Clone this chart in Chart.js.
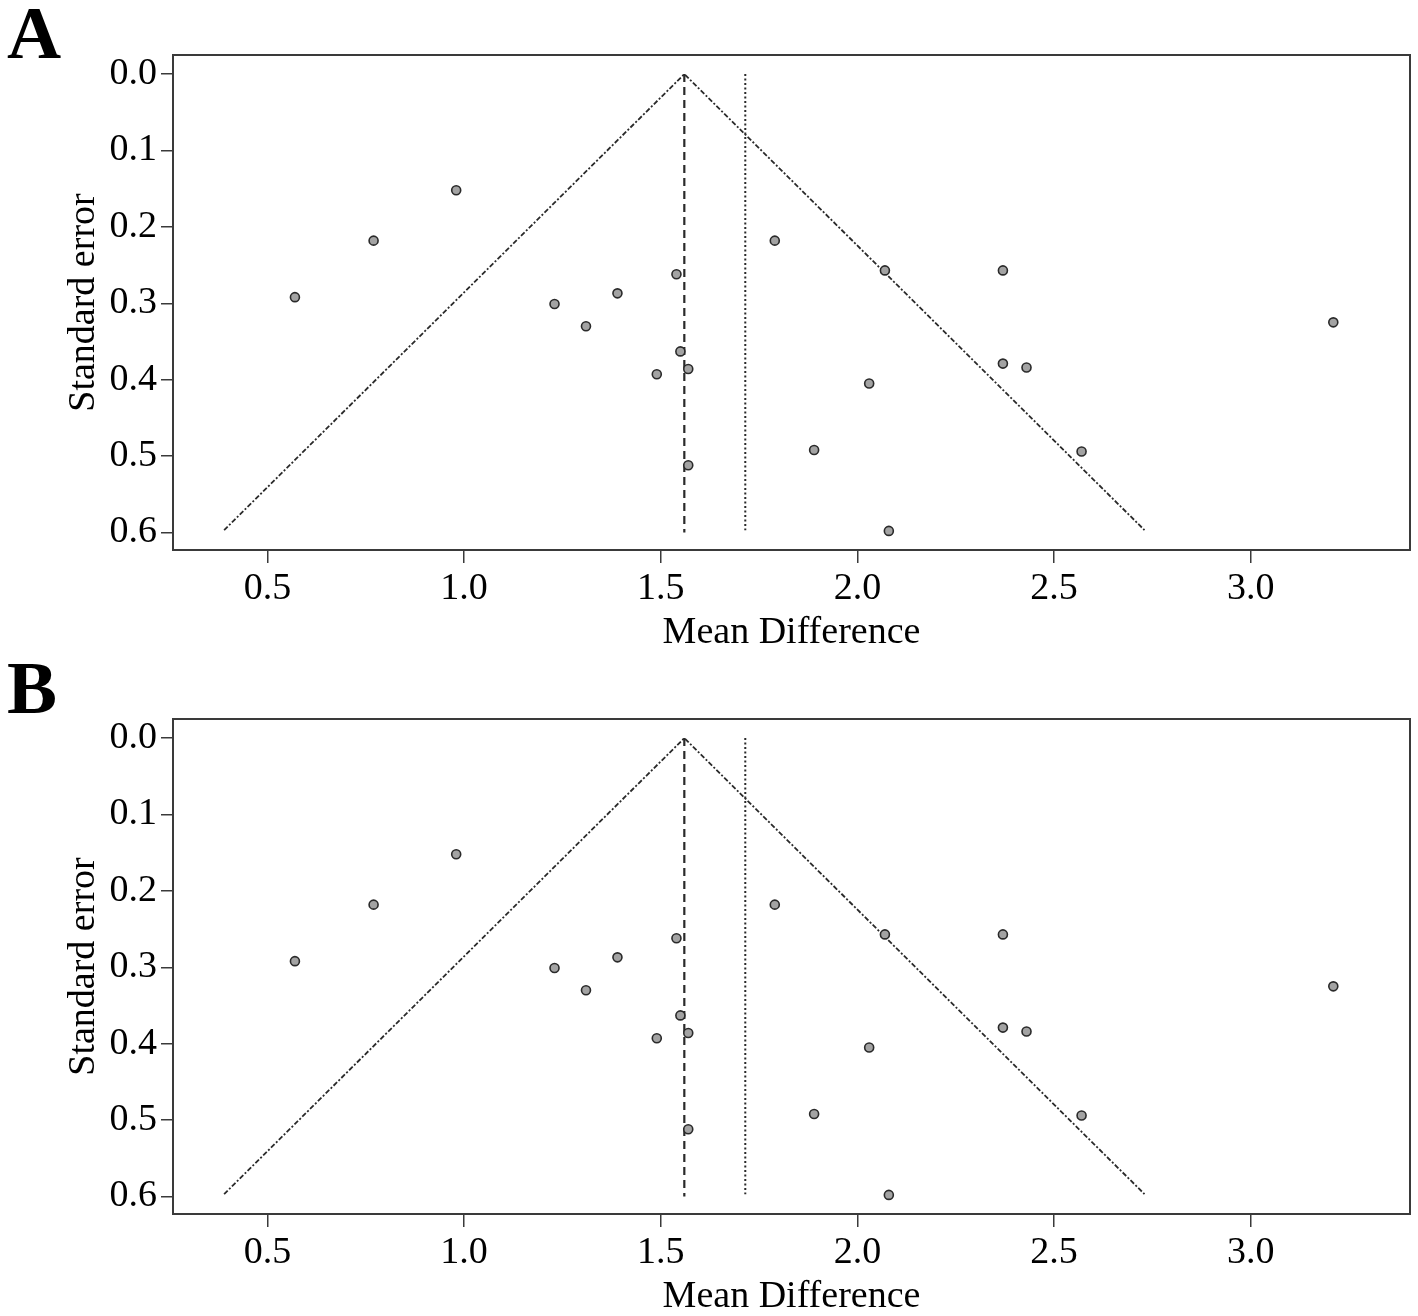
<!DOCTYPE html>
<html>
<head>
<meta charset="utf-8">
<script src="https://cdn.jsdelivr.net/npm/chart.js@4.4.1/dist/chart.umd.min.js"></script>
<style>
  html, body { margin: 0; padding: 0; background: #ffffff; width: 1418px; height: 1316px; overflow: hidden; position: relative; }
  .panel { position: absolute; left: 0; width: 1418px; height: 658px; }
  .letter { position: absolute; left: 7px; font-family: "Liberation Serif", "Times New Roman", serif; font-weight: bold; font-size: 75px; line-height: 74px; color: #000; }
</style>
</head>
<body>
<div class="letter" style="top:-4px;">A</div>
<div class="letter" style="top:651px;">B</div>
<div class="panel" style="top:0px;"><canvas id="chartA" width="1418" height="658"></canvas></div>
<div class="panel" style="top:664px;"><canvas id="chartB" width="1418" height="658"></canvas></div>
<script>
// ---- Data ----
const meanDiff = [0.57, 0.77, 0.98, 1.23, 1.31, 1.39, 1.49, 1.54, 1.55, 1.57, 1.57,
                  1.79, 1.89, 2.03, 2.07, 2.08, 2.37, 2.37, 2.43, 2.57, 3.21];
const stdError = [0.292, 0.218, 0.152, 0.301, 0.330, 0.287, 0.393, 0.262, 0.363, 0.386, 0.512,
                  0.218, 0.492, 0.405, 0.257, 0.598, 0.257, 0.379, 0.384, 0.494, 0.325];
const funnelX = [0.39, 1.56, 2.73];
const funnelY = [0.597, 0.0, 0.597];
const pooledX = [1.56, 1.56];       // dashed vertical line (pooled estimate)
const pooledY = [0.0, 0.6];
const adjustedX = [1.715, 1.715];   // dotted vertical line
const adjustedY = [0.0, 0.597];
const xTicks = [0.5, 1.0, 1.5, 2.0, 2.5, 3.0];
const yTicks = [0.0, 0.1, 0.2, 0.3, 0.4, 0.5, 0.6];
const xTitle = "Mean Difference";
const yTitle = "Standard error";

function pairs(xs, ys) { return xs.map((x, i) => ({ x: x, y: ys[i] })); }

const serif = '"Liberation Serif", "Times New Roman", serif';
const axisColor = '#3a3a3a';

const boxPlugin = {
  id: 'box',
  afterDraw(chart) {
    const a = chart.chartArea, ctx = chart.ctx;
    ctx.save();
    ctx.strokeStyle = axisColor;
    ctx.lineWidth = 2;
    ctx.setLineDash([]);
    ctx.strokeRect(a.left, a.top, a.right - a.left, a.bottom - a.top);
    ctx.restore();
  }
};

function makeChart(id) {
  return new Chart(document.getElementById(id), {
    type: 'scatter',
    data: {
      datasets: [
        {
          label: 'funnel',
          data: pairs(funnelX, funnelY),
          showLine: true,
          borderColor: '#2a2a2a',
          borderWidth: 1.8,
          borderDash: [5, 2, 2, 2],
          pointRadius: 0,
          fill: false,
          order: 3
        },
        {
          label: 'pooled',
          data: pairs(pooledX, pooledY),
          showLine: true,
          borderColor: '#2a2a2a',
          borderWidth: 2.2,
          borderDash: [8, 5],
          pointRadius: 0,
          fill: false,
          order: 2
        },
        {
          label: 'adjusted',
          data: pairs(adjustedX, adjustedY),
          showLine: true,
          borderColor: '#2a2a2a',
          borderWidth: 2,
          borderDash: [2, 2.5],
          pointRadius: 0,
          fill: false,
          order: 2
        },
        {
          label: 'studies',
          data: pairs(meanDiff, stdError),
          showLine: false,
          pointRadius: 4.5,
          pointBackgroundColor: '#a3a3a3',
          pointBorderColor: '#2a2a2a',
          pointBorderWidth: 1.6,
          order: 1
        }
      ]
    },
    options: {
      responsive: false,
      animation: false,
      devicePixelRatio: 1,
      layout: { padding: { left: 0, top: 55, right: 8, bottom: 0 } },
      plugins: { legend: { display: false }, tooltip: { enabled: false } },
      scales: {
        x: {
          type: 'linear',
          min: 0.26,
          max: 3.405,
          afterBuildTicks(scale) { scale.ticks = xTicks.map(v => ({ value: v })); },
          afterFit(scale) { scale.height = 108; },
          border: { display: false },
          grid: { display: true, drawOnChartArea: false, drawTicks: true, tickLength: 13, color: axisColor, lineWidth: 1.5 },
          ticks: {
            padding: 7,
            color: '#000',
            font: { family: serif, size: 38, lineHeight: 1 },
            maxRotation: 0,
            callback: v => Number(v).toFixed(1)
          },
          title: {
            display: true,
            text: xTitle,
            color: '#000',
            font: { family: serif, size: 38, lineHeight: 1 },
            padding: { top: 0, bottom: 6 }
          }
        },
        y: {
          type: 'linear',
          reverse: true,
          min: -0.025,
          max: 0.623,
          afterBuildTicks(scale) { scale.ticks = yTicks.map(v => ({ value: v })); },
          afterFit(scale) { scale.width = 173; },
          border: { display: false },
          grid: { display: true, drawOnChartArea: false, drawTicks: true, tickLength: 12, color: axisColor, lineWidth: 1.5 },
          ticks: {
            padding: 4,
            color: '#000',
            font: { family: serif, size: 38, lineHeight: 1 },
            callback: v => Number(v).toFixed(1)
          },
          title: {
            display: true,
            text: yTitle,
            color: '#000',
            font: { family: serif, size: 38, lineHeight: 1 },
            padding: { top: 65, bottom: 0 }
          }
        }
      }
    },
    plugins: [boxPlugin]
  });
}

makeChart('chartA');
makeChart('chartB');
</script>
</body>
</html>
